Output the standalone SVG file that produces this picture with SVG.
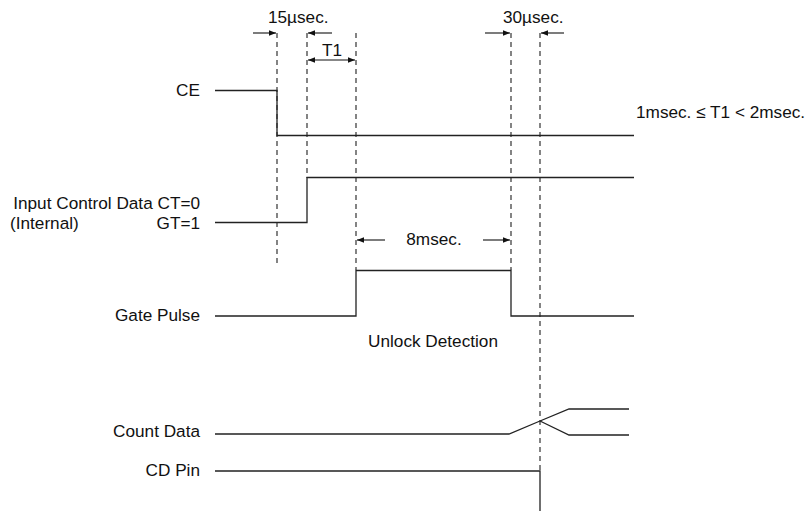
<svg xmlns="http://www.w3.org/2000/svg" width="808" height="514" viewBox="0 0 808 514">
<defs>
<marker id="ah" viewBox="0 0 10 10" refX="10" refY="5" markerWidth="7" markerHeight="7" orient="auto-start-reverse" markerUnits="userSpaceOnUse">
<path d="M0,1 L10,5 L0,9 Z" fill="#111"/>
</marker>
</defs>
<style>
text{font-family:"Liberation Sans",Arial,sans-serif;font-size:17.2px;fill:#111}
.r{text-anchor:end}
.m{text-anchor:middle}
.sig{fill:none;stroke:#222;stroke-width:1.3}
.dash{fill:none;stroke:#333;stroke-width:1.2;stroke-dasharray:5,4}
.arr{fill:none;stroke:#111;stroke-width:1.1}
</style>
<rect width="808" height="514" fill="#fff"/>
<g id="guides">
<line class="dash" x1="277" y1="33" x2="277" y2="264"/>
<line class="dash" x1="307" y1="33" x2="307" y2="178"/>
<line class="dash" x1="356" y1="33" x2="356" y2="270"/>
<line class="dash" x1="511" y1="33" x2="511" y2="270"/>
<line class="dash" x1="540" y1="33" x2="540" y2="471"/>
</g>
<g id="connectors">
<line class="arr" x1="253" y1="33" x2="276" y2="33" marker-end="url(#ah)"/>
<line class="arr" x1="332" y1="33" x2="308" y2="33" marker-end="url(#ah)"/>
<line class="arr" x1="308" y1="60" x2="355" y2="60" stroke="#555" marker-start="url(#ah)" marker-end="url(#ah)"/>
<line class="arr" x1="485" y1="33" x2="510" y2="33" marker-end="url(#ah)"/>
<line class="arr" x1="564" y1="33" x2="541" y2="33" marker-end="url(#ah)"/>
<line class="arr" x1="385" y1="240" x2="357" y2="240" marker-end="url(#ah)"/>
<line class="arr" x1="483" y1="240" x2="510" y2="240" marker-end="url(#ah)"/>
</g>
<g id="ce">
<text class="r" x="200" y="96">CE</text>
<polyline class="sig" points="215,90.5 277,90.5 277,135.5 634,135.5"/>
</g>
<g id="icd">
<text class="r" x="200" y="209">Input Control Data CT=0</text>
<text x="10" y="229">(Internal)</text>
<text class="r" x="200" y="229">GT=1</text>
<polyline class="sig" points="215,222.5 307,222.5 307,177.5 634,177.5"/>
</g>
<g id="gate">
<text class="r" x="200" y="321">Gate Pulse</text>
<polyline class="sig" points="215,316 356,316 356,270.5 511,270.5 511,316 634,316"/>
</g>
<g id="count">
<text class="r" x="200" y="437">Count Data</text>
<polyline class="sig" points="215,434 509,434 540,421 569,409 629,409"/>
<polyline class="sig" points="540,421 569,435 629,435"/>
</g>
<g id="cdpin">
<text class="r" x="200" y="476">CD Pin</text>
<polyline class="sig" points="215,471 540,471 540,511"/>
</g>
<g id="labels">
<text x="268" y="23">15µsec.</text>
<text class="m" x="332" y="56">T1</text>
<text x="503" y="23">30µsec.</text>
<text x="636" y="118">1msec. ≤ T1 &lt; 2msec.</text>
<text class="m" x="434" y="245">8msec.</text>
<text class="m" x="433" y="347">Unlock Detection</text>
</g>
</svg>
